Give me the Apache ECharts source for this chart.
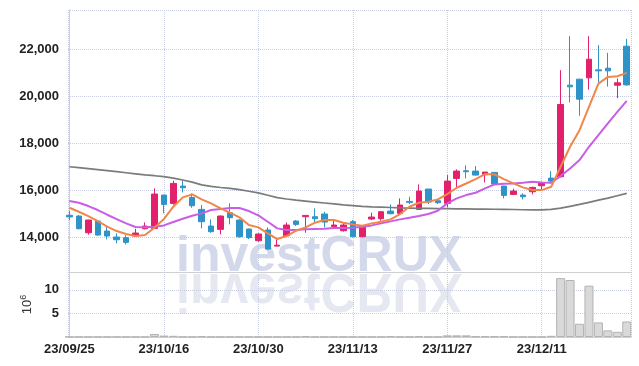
<!DOCTYPE html>
<html><head><meta charset="utf-8">
<script src="https://cdn.jsdelivr.net/npm/echarts@6/dist/echarts.min.js"></script>
<style>html,body{margin:0;padding:0;background:#fff}#c{width:639px;height:366px}</style>
</head><body><div id="c"></div>
<script>
const dates = ['23/09/25','23/09/26','23/09/27','23/10/04','23/10/05','23/10/06','23/10/10','23/10/11','23/10/12','23/10/13',
'23/10/16','23/10/17','23/10/18','23/10/19','23/10/20','23/10/23','23/10/24','23/10/25','23/10/26','23/10/27',
'23/10/30','23/10/31','23/11/01','23/11/02','23/11/03','23/11/06','23/11/07','23/11/08','23/11/09','23/11/10',
'23/11/13','23/11/14','23/11/15','23/11/16','23/11/17','23/11/20','23/11/21','23/11/22','23/11/23','23/11/24',
'23/11/27','23/11/28','23/11/29','23/11/30','23/12/01','23/12/04','23/12/05','23/12/06','23/12/07','23/12/08',
'23/12/11','23/12/12','23/12/13','23/12/14','23/12/15','23/12/18','23/12/19','23/12/20','23/12/21','23/12/22'];
const openP = [14950,14917,14209,14705,14280,14025,13997,14068,14379,14393,
15808,15455,16190,15708,15200,14492,14351,15058,14747,14365,
13870,14323,13640,14082,14705,14889,14889,15002,14464,14294,
14676,14040,14790,14804,15129,15030,15540,15200,16063,15567,
15455,16516,16840,16827,16672,16771,16190,15836,15808,15950,
16204,16530,16586,20478,20732,20788,21127,21198,20475,22133];
const closeP = [14880,14379,14747,14110,14068,13912,13799,14195,14492,15851,
15412,16304,16120,15355,14676,14252,14917,14846,14040,13997,
14153,13516,13680,14535,14563,14945,14804,14662,14535,14535,
14040,14492,14875,15101,15016,15384,15500,15978,15511,15483,
16403,16827,16800,16657,16785,16275,15794,15978,15737,16134,
16332,16402,19656,20405,19883,21580,21085,21085,20575,20489];
const lowP = [14750,14350,14125,14080,13926,13757,13714,14068,14350,14380,
15030,15398,15921,15270,14393,14209,14139,14563,13997,13941,
13827,13473,13630,14070,14492,14209,14606,14436,14436,14252,
14010,14011,14747,14719,14990,15002,15426,15171,15426,15426,
15285,16091,16516,16640,16346,16232,15666,15808,15623,15836,
16020,16303,16558,19742,19175,20290,20590,20419,19925,20460];
const highP = [15130,14960,14760,14750,14492,14181,14100,14379,14648,16091,
15820,16417,16417,15878,15384,14775,14945,15455,14770,14380,
14181,14436,13955,14648,14747,14950,15242,15101,14775,14606,
14747,14535,15058,15129,15412,15667,15738,16261,16070,15624,
16657,16898,17068,17039,16790,16780,16200,16077,15879,16162,
16374,16826,21113,22558,20740,22556,22175,21850,20760,22444];
const ma5 = [15270,15100,14917,14705,14464,14280,14153,14068,14110,14422,
14790,15313,15709,15836,15624,15455,15242,15058,14860,14535,
14436,14181,13941,14068,14294,14436,14634,14747,14747,14634,
14563,14507,14606,14676,14775,15002,15313,15483,15525,15624,
15850,16120,16300,16487,16700,16686,16487,16304,16134,16020,
16020,16162,17010,17860,18566,19555,20545,20828,20857,21000];
const ma20 = [15554,15483,15341,15172,14973,14790,14606,14450,14436,14464,
14520,14662,14804,14931,15030,15172,15214,15256,15256,15129,
14945,14676,14393,14323,14323,14351,14365,14379,14407,14410,
14422,14464,14520,14606,14690,14775,14846,14917,15002,15143,
15455,15667,15808,15907,16091,16261,16289,16304,16332,16374,
16346,16332,16615,16940,17294,17860,18355,18849,19345,19812];
const ma120 = [17010,16975,16935,16890,16845,16800,16755,16710,16665,16630,
16590,16530,16450,16360,16240,16180,16130,16090,16040,15970,
15900,15800,15700,15640,15590,15550,15510,15470,15430,15390,
15360,15330,15310,15295,15280,15265,15255,15245,15240,15235,
15230,15225,15220,15215,15210,15205,15200,15195,15185,15180,
15175,15200,15250,15330,15410,15500,15590,15680,15780,15880];
const volumeM = [0.05,0.05,0.05,0.05,0.05,0.05,0.05,0.05,0.05,0.65,
0.3,0.25,0.05,0.05,0.15,0.05,0.05,0.05,0.05,0.05,
0.05,0.05,0.05,0.05,0.05,0.15,0.05,0.05,0.05,0.05,
0.05,0.05,0.05,0.05,0.15,0.05,0.05,0.15,0.05,0.05,
0.35,0.35,0.35,0.15,0.15,0.15,0.15,0.05,0.05,0.05,
0.05,0.25,12.5,12.1,2.8,10.9,3.1,1.4,1.1,3.3];

const fmtNum = v => String(v).replace(/\B(?=(\d{3})+(?!\d))/g, ',');
const gridLine = {show:true, lineStyle:{type:'dotted', color:'#c8cce0', width:1}};
const labelFont = {fontFamily:'Liberation Sans', fontSize:13, fontWeight:'bold', color:'#222'};

const chart = echarts.init(document.getElementById('c'), null, {renderer:'canvas'});
chart.setOption({
  animation:false,
  backgroundColor:'#fff',
  grid:[{left:68, right:8, top:10, height:262}, {left:68, right:8, top:272, height:65}],
  xAxis:[
    {type:'value', gridIndex:0, min:-0.15, max:59.45, splitNumber:6,
     axisLabel:{show:false}, axisTick:{show:false},
     axisLine:{show:true, onZero:false, lineStyle:{color:'#cfcfcf'}}, splitLine:gridLine},
    {type:'value', gridIndex:1, min:-0.15, max:59.45, splitNumber:6,
     axisLabel:Object.assign({formatter:v => Number.isInteger(v) && dates[v] ? dates[v] : '', margin:6}, labelFont),
     axisTick:{show:false}, axisLine:{show:true, onZero:false, lineStyle:{color:'#cfcfcf'}}, splitLine:gridLine}
  ],
  yAxis:[
    {type:'value', gridIndex:0, min:12540, max:23670, splitNumber:5,
     axisLabel:Object.assign({formatter:v => v % 2000 === 0 ? fmtNum(v) : '', margin:9}, labelFont),
     axisTick:{show:false}, axisLine:{show:true, lineStyle:{color:'#cfcfcf'}}, splitLine:gridLine},
    {type:'value', gridIndex:1, min:0, max:13.8, splitNumber:3,
     name:'{a|10}{b|6}', nameLocation:'middle', nameRotate:90, nameGap:26,
     nameTextStyle:{rich:{a:{fontFamily:'Liberation Sans', fontSize:13, color:'#333'},
                          b:{fontFamily:'Liberation Sans', fontSize:9, color:'#333', padding:[0,0,7,0]}}},
     axisLabel:Object.assign({formatter:v => (v === 5 || v === 10) ? String(v) : '', margin:9}, labelFont),
     axisTick:{show:false}, axisLine:{show:true, lineStyle:{color:'#cfcfcf'}}, splitLine:gridLine}
  ],
  graphic:[
    {type:'text', x:176, y:282, z:-1, silent:true,
     style:{text:'investCRUX', fontFamily:'Liberation Sans', fontWeight:'bold', fontSize:50, fill:'#d3d8ea', verticalAlign:'bottom'}},
    {type:'text', x:176, y:262, z:-1, scaleY:-1.1, silent:true,
     style:{text:'investCRUX', fontFamily:'Liberation Sans', fontWeight:'bold', fontSize:50, fill:'#e6e8f1', verticalAlign:'bottom'}}
  ],
  series:[
    {type:'candlestick', xAxisIndex:0, yAxisIndex:0, barWidth:6,
     data: dates.map((d,i) => [i, openP[i], closeP[i], lowP[i], highP[i]]),
     itemStyle:{color:'#e3206b', color0:'#2e93c8', borderColor:'#e3206b', borderColor0:'#2e93c8', borderWidth:1}},
    {type:'line', xAxisIndex:0, yAxisIndex:0, showSymbol:false, data: ma120.map((v,i)=>[i,v]),
     lineStyle:{color:'#7b7b7b', width:1.7}},
    {type:'line', xAxisIndex:0, yAxisIndex:0, showSymbol:false, data: ma20.map((v,i)=>[i,v]),
     lineStyle:{color:'#c95de6', width:2}},
    {type:'line', xAxisIndex:0, yAxisIndex:0, showSymbol:false, data: ma5.map((v,i)=>[i,v]),
     lineStyle:{color:'#f0874a', width:2}},
    {type:'bar', xAxisIndex:1, yAxisIndex:1, barWidth:9, data: volumeM.map((v,i)=>[i,v]),
     itemStyle:{color:'#d9d9d9', borderColor:'#b3b3b3', borderWidth:1}}
  ]
});
</script></body></html>
